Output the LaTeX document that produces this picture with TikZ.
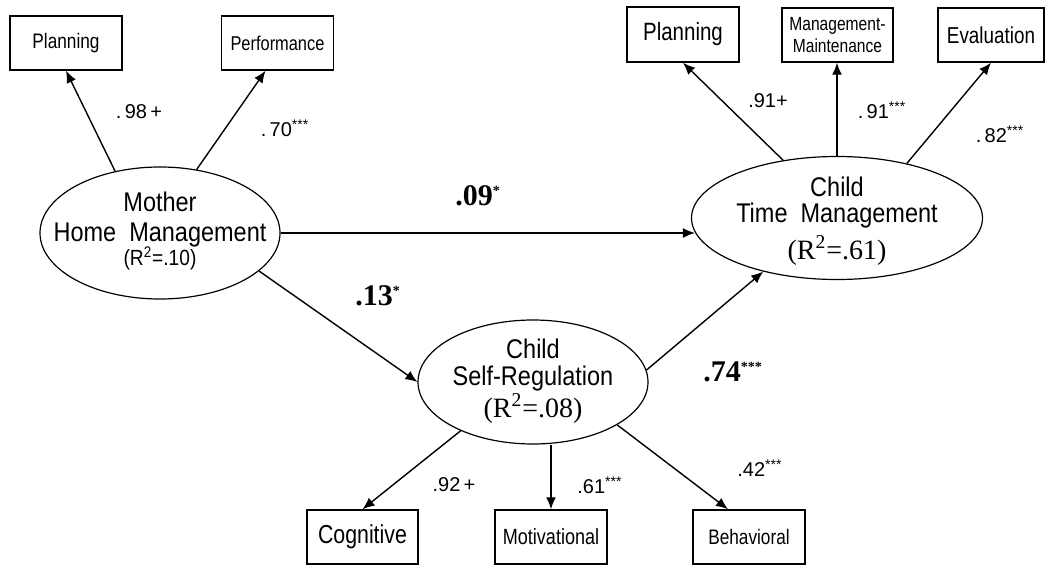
\documentclass[tikz,border=0pt]{standalone}
\usepackage{fontspec}
\setmainfont{Liberation Sans}
\newfontfamily\cf[FakeStretch=0.82]{Liberation Sans}
\newfontfamily\ef[FakeStretch=0.87]{Liberation Sans}
\newfontfamily\serf{Liberation Serif}
\usetikzlibrary{shapes.geometric,arrows.meta,calc}
\newcommand\sigmark[1]{\textsuperscript{\fontsize{7}{7}\selectfont #1}}
\begin{document}
\begin{tikzpicture}[x=0.5pt,y=-0.5pt,
  box/.style={draw, line width=0.75pt, inner sep=0pt, minimum width=56pt, minimum height=27pt, align=center},
  lat/.style={draw, ellipse, line width=0.6pt, inner sep=0pt},
  etext/.style={inner sep=0pt, align=center},
  arr/.style={-{Latex[length=6pt,width=5pt]}, line width=0.7pt},
  load/.style={font=\fontsize{10}{12}\selectfont, inner sep=0pt},
  pathlab/.style={font=\serf\bfseries\fontsize{15}{17}\selectfont, inner sep=0pt}]
\useasboundingbox (0,0) rectangle (1046,567);

% indicator boxes
\node[box, font=\cf\fontsize{10.5}{12}\selectfont] (P1) at (66,43) {Planning};
\node[box, font=\cf\fontsize{10}{12}\selectfont] (P2) at (277.5,43) {Performance};
\node[box, minimum height=27.5pt, font=\cf\fontsize{12.5}{14}\selectfont] (RP) at (683,34.5) {Planning};
\node[box, minimum width=55.5pt, font=\cf\fontsize{9.5}{11}\selectfont] (MM) at (837.5,35) {Management-\\Maintenance};
\node[box, minimum width=53pt, font=\cf\fontsize{11.5}{13}\selectfont] (Ev) at (991,35) {Evaluation};
\node[box, minimum width=55.5pt, font=\cf\fontsize{13}{15}\selectfont] (Cog) at (362.5,537) {Cognitive};
\node[box, font=\cf\fontsize{11}{13}\selectfont] (Mot) at (551,537) {Motivational};
\node[box, font=\cf\fontsize{10.5}{12}\selectfont] (Beh) at (749,537) {Behavioral};

% latent variables
\node[lat, minimum width=120pt, minimum height=66pt] (M) at (160,233) {};
\node[etext, font=\ef\fontsize{13.5}{15}\selectfont] (Mt) at ($(M)+(0,-2)$) {Mother\\Home\ \ Management\\[-3pt]{\fontsize{11}{12}\selectfont(R\textsuperscript{2}=.10)}};
\node[lat, minimum width=145.5pt, minimum height=61.5pt] (CT) at (837,218) {};
\node[etext, font=\ef\fontsize{13.5}{13}\selectfont] (CTt) at ($(CT)+(0,3)$) {Child\\Time\ \ Management\\[3pt]{\serf\fontsize{14}{14}\selectfont (R\textsuperscript{2}=.61)}};
\node[lat, minimum width=115pt, minimum height=62pt] (SR) at (533,382) {};
\node[etext, font=\ef\fontsize{13.5}{13.5}\selectfont] (SRt) at ($(SR)+(0,-1)$) {Child\\Self-Regulation\\[0.5pt]{\serf\fontsize{14}{14}\selectfont (R\textsuperscript{2}=.08)}};

% connectors
\draw[arr] (M.126) -- (P1.south);
\draw[arr] (M.60) -- ($(P2.south)+(-12,0)$);
\draw[arr] (CT.133) -- (RP.south);
\draw[arr] (CT.north) -- (CT.north |- MM.south);
\draw[arr] (CT.38) -- (Ev.south);
\draw[arr] (M.east) -- ($(M.east -| CT.west)+(4,0)$);
\draw[arr] (M.-21) -- (SR.west);
\draw[arr] (SR.6) -- (CT.216);
\draw[arr] (SR.214) -- (Cog.north);
\draw[arr] (SR.south -| Mot.north) -- (Mot.north);
\draw[arr] (SR.-27) -- ($(Beh.north)+(-21,0)$);

% loadings
\node[load] (l1) at (139,112) {.\,98\,+};
\node[load] (l2) at (285,128) {.\,70\sigmark{***}};
\node[load] (l3) at (768,101) {.91+};
\node[load] (l4) at (882,110) {.\,91\sigmark{***}};
\node[load] (l5) at (1000,134) {.\,82\sigmark{***}};
\node[load] (l6) at (454,485) {.92\,+};
\node[load] (l7) at (600,485) {.61\sigmark{***}};
\node[load] (l8) at (760,468) {.42\sigmark{***}};

% path coefficients
\node[pathlab] (c1) at (478,196) {.09\sigmark{*}};
\node[pathlab] (c2) at (378,296) {.13\sigmark{*}};
\node[pathlab] (c3) at (733,372) {.74\sigmark{***}};
\end{tikzpicture}
\end{document}
